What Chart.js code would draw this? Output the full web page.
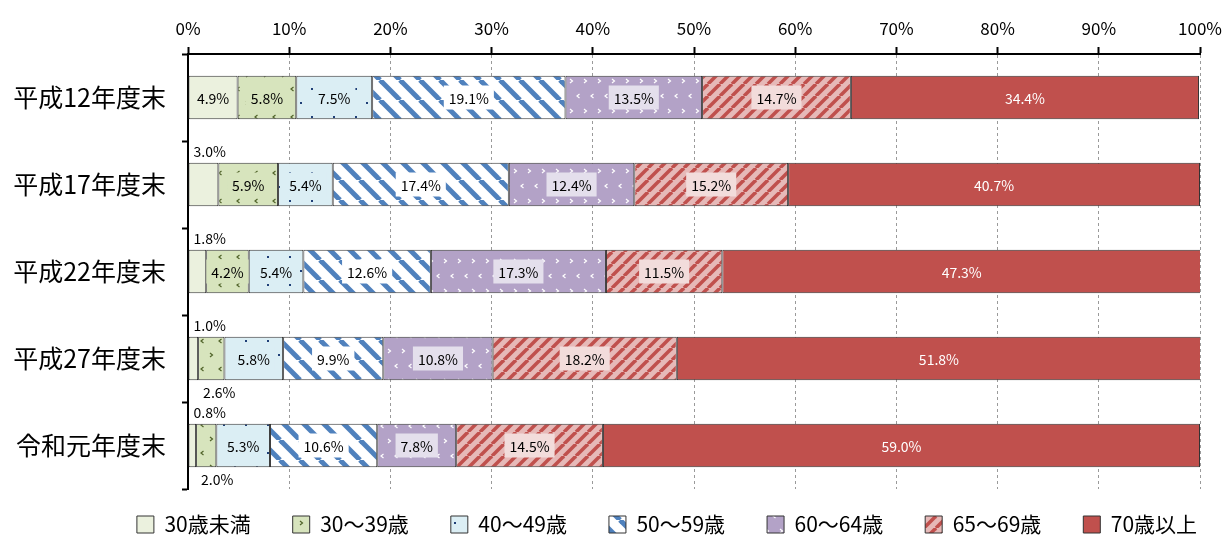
<!DOCTYPE html>
<html><head><meta charset="utf-8">
<script src="https://cdn.jsdelivr.net/npm/chart.js@4.4.0/dist/chart.umd.min.js"></script>
<style>html,body{margin:0;padding:0;background:#fff;}#wrap{width:1227px;height:536px;}</style>
</head><body><div id="wrap"><canvas id="c" width="1227" height="536"></canvas></div>
<script>
// ---- data ----
const categories = ['平成12年度末', '平成17年度末', '平成22年度末', '平成27年度末', '令和元年度末'];
const seriesNames = ['30歳未満', '30～39歳', '40～49歳', '50～59歳', '60～64歳', '65～69歳', '70歳以上'];
const under30   = [4.9, 3.0, 1.8, 1.0, 0.8];
const age30to39 = [5.8, 5.9, 4.2, 2.6, 2.0];
const age40to49 = [7.5, 5.4, 5.4, 5.8, 5.3];
const age50to59 = [19.1, 17.4, 12.6, 9.9, 10.6];
const age60to64 = [13.5, 12.4, 17.3, 10.8, 7.8];
const age65to69 = [14.7, 15.2, 11.5, 18.2, 14.5];
const age70plus = [34.4, 40.7, 47.3, 51.8, 59.0];
const xTickValues = [0, 10, 20, 30, 40, 50, 60, 70, 80, 90, 100];
const seriesValues = [under30, age30to39, age40to49, age50to59, age60to64, age65to69, age70plus];

// ---- styles ----
const FONT = '"Noto Sans CJK JP", "Noto Sans", sans-serif';
Chart.defaults.font.family = FONT;
Chart.defaults.color = '#000';

function tile(w, h, bg, draw) {
  const c = document.createElement('canvas');
  c.width = w; c.height = h;
  const g = c.getContext('2d');
  g.fillStyle = bg; g.fillRect(0, 0, w, h);
  draw(g);
  return g.createPattern(c, 'repeat');
}
function stripes(bg, fg, p, lw, dir) {
  return tile(p, p, bg, g => {
    g.strokeStyle = fg; g.lineWidth = lw;
    for (let k = -1; k <= 1; k++) {
      g.beginPath();
      if (dir === 'down') { g.moveTo(k * p, 0); g.lineTo(k * p + p, p); }
      else { g.moveTo(k * p, p); g.lineTo(k * p + p, 0); }
      g.stroke();
    }
  });
}
function chevron(g, x, y, left) {
  g.beginPath();
  if (left) { g.moveTo(x + 2.5, y); g.lineTo(x, y + 2); g.lineTo(x + 2.5, y + 4); }
  else { g.moveTo(x, y); g.lineTo(x + 2.5, y + 2); g.lineTo(x, y + 4); }
  g.stroke();
}
const fills = [
  '#ebf1de',
  tile(18, 28, '#d7e4bd', g => { g.strokeStyle = '#4f6228'; g.lineWidth = 1.2;
    chevron(g, 3, 3, true); chevron(g, 12, 17, false); }),
  tile(22, 28, '#dbeef4', g => { g.fillStyle = '#1f3f77'; g.fillRect(3, 4, 2, 2); g.fillRect(14, 18, 2, 2); }),
  stripes('#ffffff', '#4f81bd', 20, 5, 'down'),
  tile(14, 30, '#b3a2c7', g => { g.strokeStyle = '#ffffff'; g.lineWidth = 1.2;
    chevron(g, 3, 4, true); chevron(g, 10, 19, false); }),
  stripes('#e6b9b8', '#c0504d', 12, 3.5, 'up'),
  '#c0504d'
];
const boxColors = ['', '#d7e4bd', '#dbeef4', '#ffffff', '#e4dfec', '#f2dcdb', ''];
const textColors = ['#000', '#000', '#000', '#000', '#000', '#000', '#fff'];

const labelPlugin = {
  id: 'segLabels',
  afterDatasetsDraw(chart) {
    const ctx = chart.ctx;
    chart.data.datasets.forEach((ds, i) => {
      const meta = chart.getDatasetMeta(i);
      meta.data.forEach((bar, j) => {
        const v = ds.data[j];
        const text = v.toFixed(1) + '%';
        const p = bar.getProps(['x', 'y', 'base', 'height'], true);
        const left = Math.min(p.x, p.base), right = Math.max(p.x, p.base);
        ctx.save();
        ctx.font = '14px ' + FONT;
        ctx.textBaseline = 'middle';
        let place = 'inside';
        if (i === 0 && v < 4) place = 'above';
        else if (i === 1 && v < 3) place = 'below';
        if (place === 'inside') {
          const w = ctx.measureText(text).width;
          const cx = (left + right) / 2;
          if (boxColors[i]) { ctx.fillStyle = boxColors[i]; ctx.fillRect(cx - w / 2 - 5, p.y - 12, w + 10, 24); }
          ctx.fillStyle = textColors[i]; ctx.textAlign = 'center';
          ctx.fillText(text, cx, p.y + 1);
        } else {
          ctx.fillStyle = '#000'; ctx.textAlign = 'left';
          const ty = place === 'above' ? p.y - p.height / 2 - 11 : p.y + p.height / 2 + 12;
          ctx.fillText(text, left + 5, ty);
        }
        ctx.restore();
      });
    });
  }
};
const legendShift = {
  id: 'legendShift',
  afterLayout(chart) {
    const lg = chart.legend;
    if (!lg) return;
    lg.top = 472;
    lg.bottom = 536;
    lg.height = lg.bottom - lg.top;
    lg.left += 67; lg.right += 67;
  }
};

new Chart(document.getElementById('c'), {
  type: 'bar',
  data: {
    labels: categories,
    datasets: seriesValues.map((d, i) => ({
      label: seriesNames[i], data: d, backgroundColor: fills[i],
      borderColor: '#333', borderWidth: 1, borderSkipped: false,
      barPercentage: 0.5, categoryPercentage: 1
    }))
  },
  options: {
    indexAxis: 'y', responsive: false, animation: false,
    layout: { padding: { left: 0, right: 27, top: 0, bottom: 0 } },
    scales: {
      x: {
        position: 'top', stacked: true, min: 0, max: 100,
        afterBuildTicks: s => { s.ticks = xTickValues.map(v => ({ value: v })); },
        ticks: { callback: v => v + '%', font: { size: 17 }, padding: 8, maxRotation: 0, autoSkip: false },
        grid: { color: '#9a9a9a', lineWidth: 1, tickColor: '#000', tickWidth: 2, tickLength: 7 },
        border: { display: true, color: '#000', width: 2, dash: [3, 3] },
        afterFit: s => { s.height = 54; s.paddingLeft = 0; s.paddingRight = 0; }
      },
      y: {
        stacked: true, position: 'left',
        ticks: { font: { size: 25 }, padding: 16 },
        grid: { drawOnChartArea: false, tickColor: '#000', tickWidth: 2, tickLength: 6, offset: true },
        border: { color: '#000', width: 2 },
        afterFit: s => { s.width = 188; }
      }
    },
    plugins: {
      legend: { position: 'bottom', maxHeight: 47,
        labels: { boxWidth: 17, boxHeight: 17, padding: 42, font: { size: 21 }, color: '#000' } },
      tooltip: { enabled: false }
    }
  },
  plugins: [labelPlugin, legendShift]
});
</script></body></html>
